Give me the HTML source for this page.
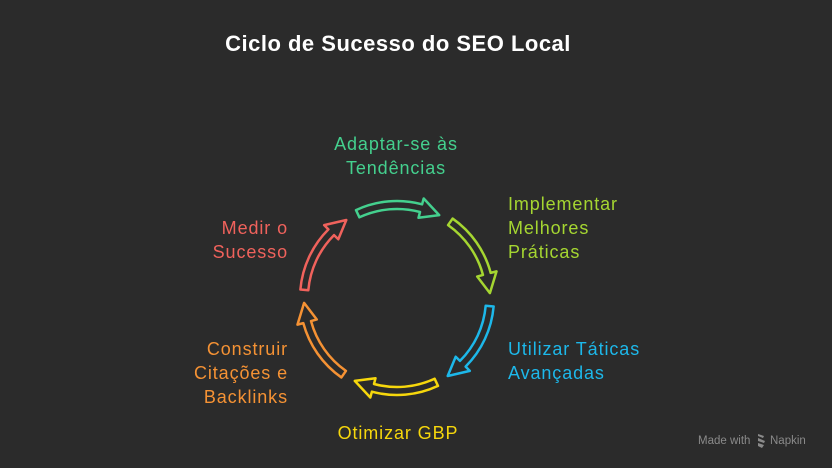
<!DOCTYPE html>
<html><head><meta charset="utf-8"><style>
body{margin:0;background:#2b2b2b;width:832px;height:468px;overflow:hidden;font-family:"Liberation Sans",sans-serif}
svg{position:absolute;left:0;top:0}
</style></head><body>
<svg width="832" height="468" viewBox="0 0 832 468">
<text x="398" y="51" text-anchor="middle" fill="#fff" font-size="22" font-weight="bold" letter-spacing="0.5">Ciclo de Sucesso do SEO Local</text>
<defs><path id="a" d="M-41,-87.9 A97 97 0 0 1 25.1,-93.7 L26.7,-99.5 L42.2,-82.9 L21.5,-80.2 L23,-86 A89 89 0 0 0 -37.6,-80.7 Z" fill="none" stroke-width="2.5" stroke-linejoin="round"/></defs>
<g transform="translate(397,298)">
<use href="#a" stroke="#44d08e"/>
<use href="#a" stroke="#a5d631" transform="rotate(60)"/>
<use href="#a" stroke="#1db8ea" transform="rotate(120)"/>
<use href="#a" stroke="#f6d70c" transform="rotate(180)"/>
<use href="#a" stroke="#f59234" transform="rotate(240)"/>
<use href="#a" stroke="#f0625c" transform="rotate(300)"/>
</g>
<g font-size="18" letter-spacing="0.9">
<text fill="#44d08e" text-anchor="middle"><tspan x="396" y="150">Adaptar-se às</tspan><tspan x="396" y="174">Tendências</tspan></text>
<text fill="#a5d631"><tspan x="508" y="210">Implementar</tspan><tspan x="508" y="234">Melhores</tspan><tspan x="508" y="258">Práticas</tspan></text>
<text fill="#1db8ea"><tspan x="508" y="355">Utilizar Táticas</tspan><tspan x="508" y="379">Avançadas</tspan></text>
<text fill="#f6d70c" text-anchor="middle" x="398" y="439">Otimizar GBP</text>
<text fill="#f59234" text-anchor="end"><tspan x="288" y="355">Construir</tspan><tspan x="288" y="379">Citações e</tspan><tspan x="288" y="403">Backlinks</tspan></text>
<text fill="#f0625c" text-anchor="end"><tspan x="288" y="234">Medir o</tspan><tspan x="288" y="258">Sucesso</tspan></text>
</g>
<text x="698" y="444" fill="#8a8a8a" font-size="11.5">Made with</text>
<g fill="#8a8a8a"><path d="M758,434 l6,2 -1,2 -5,-2z M758,438 l7,3 -1,2 -6,-2z M758,443 l6,2 -2,3 -4,-2z"/></g>
<text x="770" y="444" fill="#8a8a8a" font-size="11.5">Napkin</text>
</svg>
</body></html>
